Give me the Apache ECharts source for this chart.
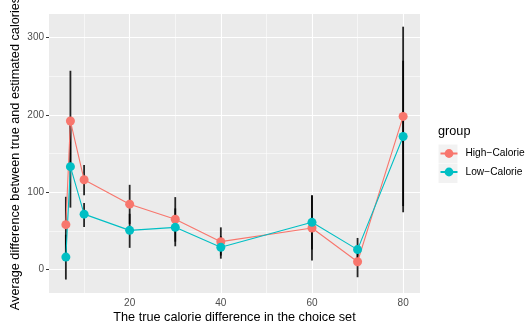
<!DOCTYPE html>
<html>
<head>
<meta charset="utf-8">
<script src="https://cdn.jsdelivr.net/npm/echarts@6/dist/echarts.min.js"></script>
<style>
html,body{margin:0;padding:0;background:#fff;}
#chart{width:526px;height:328px;}
</style>
</head>
<body>
<div id="chart"></div>
<script>
const xVals = [6, 7, 10, 20, 30, 40, 60, 70, 80];
const highMean = [58, 192, 116, 84.5, 65, 36, 53.6, 10, 198];
const highLow  = [21, 128, 96, 59, 36, 18, 11.6, -10, 82];
const highHigh = [94, 257, 135, 109.5, 93.6, 54.5, 95.6, 30, 314];
const lowMean  = [16, 133, 71.6, 50.6, 54.5, 28.7, 61, 25.7, 172];
const lowLow   = [-13, 80, 55, 28, 30, 14, 26, 11, 74];
const lowHigh  = [45, 186, 86, 72, 79, 43, 96, 40.8, 270];
const xTicks = [20, 40, 60, 80];
const xMinor = [10, 30, 50, 70];
const yTicks = [0, 100, 200, 300];
const yMinor = [50, 150, 250];
const groups = ['High−Calorie', 'Low−Calorie'];
const colors = ['#F8766D', '#00BFC4'];

const FONT = 'Liberation Sans, Arial, Helvetica, sans-serif';
const chart = echarts.init(document.getElementById('chart'), null, {renderer: 'canvas'});

const pairs = (ys) => xVals.map((x, i) => [x, ys[i]]);
const bars = (lo, hi) => xVals.map((x, i) => [x, lo[i], hi[i]]);

const xMajorItems = xTicks.map(v => ({xAxis: v, lineStyle: {width: 1.1}}));
const xMinorItems = xMinor.map(v => ({xAxis: v, lineStyle: {width: 0.55}}));
const yMajorItems = yTicks.map(v => ({yAxis: v, lineStyle: {width: 1.1}}));
const yMinorItems = yMinor.map(v => ({yAxis: v, lineStyle: {width: 0.55}}));

function errRender(params, api) {
  const x = api.value(0), lo = api.value(1), hi = api.value(2);
  const p1 = api.coord([x, lo]);
  const p2 = api.coord([x, hi]);
  const w = 1.8;
  return {
    type: 'rect',
    shape: {x: p1[0] - w / 2, y: p2[1], width: w, height: p1[1] - p2[1]},
    style: {fill: 'rgba(0,0,0,0.85)', stroke: null, lineWidth: 0}
  };
}

const option = {
  animation: false,
  textStyle: {fontFamily: FONT},
  title: {
    text: 'group', left: 438, top: 125, padding: 0,
    textStyle: {fontFamily: FONT, fontSize: 12.7, fontWeight: 'normal', color: '#000'}
  },
  graphic: [
    {type: 'rect', z: 0, shape: {x: 438.5, y: 144.5, width: 19, height: 19}, style: {fill: '#F2F2F2'}},
    {type: 'rect', z: 0, shape: {x: 438.5, y: 164, width: 19, height: 19}, style: {fill: '#F2F2F2'}}
  ],
  legend: {
    data: groups,
    orient: 'vertical',
    left: 439.5, top: 148.5,
    padding: 0,
    itemWidth: 17, itemHeight: 11, itemGap: 8.5,
    textStyle: {fontFamily: FONT, fontSize: 10.2, color: '#000', padding: [0, 0, 0, 3]}
  },
  grid: {
    left: 49, right: 106, top: 14, bottom: 35,
    containLabel: false,
    outerBoundsMode: 'none',
    show: true, backgroundColor: '#EBEBEB', borderWidth: 0
  },
  xAxis: {
    type: 'value', min: 2.3, max: 83.7,
    name: 'The true calorie difference in the choice set',
    nameLocation: 'middle', nameGap: 18, nameMoveOverlap: false,
    nameTextStyle: {fontFamily: FONT, fontSize: 12.7, color: '#000'},
    axisLine: {show: false},
    axisTick: {show: true, customValues: xTicks, length: 3, lineStyle: {color: '#333', width: 1}},
    axisLabel: {customValues: xTicks, margin: 5, fontFamily: FONT, fontSize: 10, color: '#4D4D4D'},
    splitLine: {show: false}
  },
  yAxis: {
    type: 'value', min: -30.4, max: 330.4,
    name: 'Average difference between true and estimated calories',
    nameLocation: 'middle', nameGap: 27, nameMoveOverlap: false,
    nameTextStyle: {fontFamily: FONT, fontSize: 12.7, color: '#000'},
    axisLine: {show: false},
    axisTick: {show: true, customValues: yTicks, length: 3, lineStyle: {color: '#333', width: 1}},
    axisLabel: {customValues: yTicks, margin: 5, fontFamily: FONT, fontSize: 10, color: '#4D4D4D'},
    splitLine: {show: false}
  },
  series: [
    {
      type: 'line', name: '__grid', data: [], silent: true, z: 1,
      markLine: {
        z: 1, zlevel: 0,
        silent: true, symbol: 'none', animation: false,
        label: {show: false},
        lineStyle: {color: '#FFFFFF', type: 'solid'},
        emphasis: {disabled: true},
        data: [].concat(xMinorItems, yMinorItems, xMajorItems, yMajorItems)
      }
    },
    {
      type: 'custom', name: 'errH', renderItem: errRender, data: bars(highLow, highHigh),
      encode: {x: 0, y: [1, 2]}, z: 6, silent: true
    },
    {
      type: 'custom', name: 'errL', renderItem: errRender, data: bars(lowLow, lowHigh),
      encode: {x: 0, y: [1, 2]}, z: 6, silent: true
    },
    {
      type: 'line', name: groups[0], data: pairs(highMean), z: 7,
      symbol: 'circle', symbolSize: 9, showSymbol: false,
      lineStyle: {color: colors[0], width: 1.1},
      itemStyle: {color: colors[0]}
    },
    {
      type: 'line', name: groups[1], data: pairs(lowMean), z: 7,
      symbol: 'circle', symbolSize: 9, showSymbol: false,
      lineStyle: {color: colors[1], width: 1.1},
      itemStyle: {color: colors[1]}
    },
    {
      type: 'scatter', name: groups[0], data: pairs(highMean), z: 8,
      symbol: 'circle', symbolSize: 9, itemStyle: {color: colors[0], opacity: 1}
    },
    {
      type: 'scatter', name: groups[1], data: pairs(lowMean), z: 8,
      symbol: 'circle', symbolSize: 9, itemStyle: {color: colors[1], opacity: 1}
    }
  ]
};
chart.setOption(option);
</script>
</body>
</html>
